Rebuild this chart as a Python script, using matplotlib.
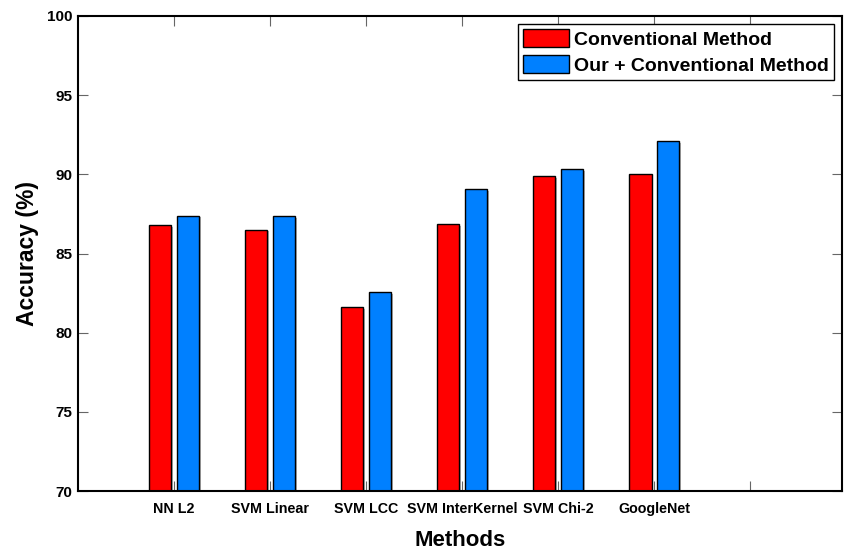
import matplotlib.pyplot as plt
import matplotlib.patheffects as pe
import numpy as np

methods = ['NN L2', 'SVM Linear', 'SVM LCC', 'SVM InterKernel', 'SVM Chi-2', 'GoogleNet']
conventional = [86.8, 86.5, 81.6, 86.85, 89.87, 90.0]
ours = [87.4, 87.36, 82.58, 89.07, 90.32, 92.1]

plt.rcParams['font.family'] = ['Liberation Sans', 'DejaVu Sans']
plt.rcParams['font.weight'] = 'bold'

fig = plt.figure(figsize=(8.48, 5.5), dpi=100)
ax = fig.add_axes([0.092, 0.107, 0.9006, 0.864])

x = np.arange(1, len(methods) + 1)
width = 0.23
shadow = [pe.SimplePatchShadow(offset=(1.2, -1.2), shadow_rgbFace='gray', alpha=0.6), pe.Normal()]

ax.bar(x - 0.145, conventional, width, color='#ff0000', edgecolor='black', linewidth=1,
       label='Conventional Method', path_effects=shadow)
ax.bar(x + 0.145, ours, width, color='#0080ff', edgecolor='black', linewidth=1,
       label='Our + Conventional Method', path_effects=shadow)

ax.set_xlim(0, 7.95)
ax.set_ylim(70, 100)
ax.set_xticks(list(x) + [7])
ax.set_xticklabels(methods + [''], fontsize=10.3, fontweight='bold')
ax.set_yticks(np.arange(70, 101, 5))
ax.set_yticklabels([str(v) for v in range(70, 101, 5)], fontsize=11, fontweight='bold')
ax.tick_params(direction='in', top=True, right=True, length=7, color='#666666')
ax.tick_params(axis='x', pad=8)
ax.tick_params(axis='y', pad=4)

for s in ax.spines.values():
    s.set_linewidth(1.5)

ax.set_xlabel('Methods', fontsize=16, fontweight='bold', labelpad=10)
ax.set_ylabel('Accuracy (%)', fontsize=16.5, fontweight='bold', labelpad=6)

leg = ax.legend(loc='upper right', prop={'weight': 'bold', 'size': 14},
                fancybox=False, framealpha=1, edgecolor='black', borderpad=0.28,
                handlelength=2.35, handleheight=1.0, handletextpad=0.25,
                labelspacing=0.35, borderaxespad=0.4)
leg.get_frame().set_linewidth(1)

fig.savefig('out.png', dpi=100)
